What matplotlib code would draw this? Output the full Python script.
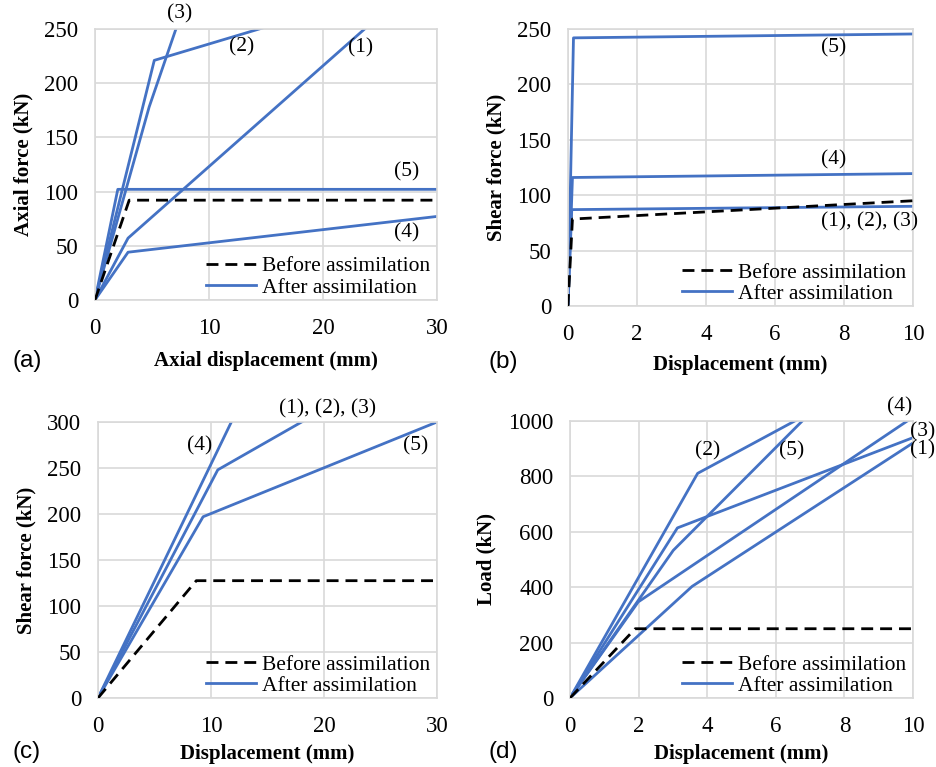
import matplotlib
matplotlib.use("Agg")
import matplotlib.pyplot as plt

plt.rcParams['font.family'] = ['Liberation Serif', 'DejaVu Serif']

BLUE = "#4472C4"
GRID = "#d9d9d9"

# (a) axial force vs axial displacement
a_before_x = [0, 3.0, 30]
a_before_y = [0, 92, 92]
a_after = {
    "(1)": ([0, 2.9, 30], [0, 57, 309]),
    "(2)": ([0, 5.2, 30], [0, 221, 299]),
    "(3)": ([0, 4.75, 7.1, 8.0], [0, 178, 250, 277]),
    "(4)": ([0, 2.9, 30], [0, 44, 77]),
    "(5)": ([0, 2.0, 30], [0, 102, 102]),
}

# (b) shear force vs displacement
b_before_x = [0, 0.13, 10]
b_before_y = [0, 78.5, 95]
b_after = {
    "(1), (2), (3)": ([0, 0.11, 10], [0, 87, 90]),
    "(4)": ([0, 0.13, 10], [0, 116, 119.5]),
    "(5)": ([0, 0.16, 10], [0, 242, 245.5]),
}

# (c) shear force vs displacement
c_before_x = [0, 8.7, 30]
c_before_y = [0, 127.5, 127.5]
c_after = {
    "(1), (2), (3)": ([0, 10.6, 30], [0, 248, 384]),
    "(4)": ([0, 11.8, 13.0], [0, 300, 330]),
    "(5)": ([0, 9.3, 30], [0, 197, 300]),
}

# (d) load vs displacement
d_before_x = [0, 1.9, 10]
d_before_y = [0, 250, 250]
d_after = {
    "(1)": ([0, 3.56, 10], [0, 403, 921]),
    "(2)": ([0, 3.72, 6.55, 7.0], [0, 811, 1000, 1030]),
    "(3)": ([0, 3.13, 10], [0, 614, 940]),
    "(4)": ([0, 1.99, 9.83, 10.2], [0, 347, 1000, 1022]),
    "(5)": ([0, 3.01, 6.77, 7.0], [0, 533, 1000, 1029]),
}

panels = [
    dict(pos=[0.1015, 0.609, 0.3654, 0.3533], xlim=30, xt=[0, 10, 20, 30],
         ylim=250, yt=[0, 50, 100, 150, 200, 250], xpad=9,
         xlabel="Axial displacement (mm)", ylabel="Axial force (kN)",
         before=(a_before_x, a_before_y), after=a_after, tag="(a)", tagpos=(0.013, 0.529),
         labels=[("(3)", 7.46, 264), ("(2)", 12.9, 233), ("(1)", 23.3, 232.5),
                 ("(5)", 27.3, 118), ("(4)", 27.3, 62)]),
    dict(pos=[0.6068, 0.601, 0.3686, 0.3612], xlim=10, xt=[0, 2, 4, 6, 8, 10],
         ylim=250, yt=[0, 50, 100, 150, 200, 250], xpad=7,
         xlabel="Displacement (mm)", ylabel="Shear force (kN)",
         before=(b_before_x, b_before_y), after=b_after, tag="(b)", tagpos=(0.522, 0.528),
         labels=[("(5)", 7.71, 233), ("(4)", 7.71, 132), ("(1), (2), (3)", 8.75, 76)]),
    dict(pos=[0.1047, 0.09, 0.3622, 0.3598], xlim=30, xt=[0, 10, 20, 30],
         ylim=300, yt=[0, 50, 100, 150, 200, 250, 300], xpad=5,
         xlabel="Displacement (mm)", ylabel="Shear force (kN)",
         before=(c_before_x, c_before_y), after=c_after, tag="(c)", tagpos=(0.013, 0.019),
         labels=[("(1), (2), (3)", 20.35, 314), ("(4)", 9.03, 274), ("(5)", 28.1, 274)]),
    dict(pos=[0.609, 0.09, 0.3665, 0.3611], xlim=10, xt=[0, 2, 4, 6, 8, 10],
         ylim=1000, yt=[0, 200, 400, 600, 800, 1000], xpad=5,
         xlabel="Displacement (mm)", ylabel="Load (kN)",
         before=(d_before_x, d_before_y), after=d_after, tag="(d)", tagpos=(0.522, 0.019),
         labels=[("(2)", 4.0, 892), ("(5)", 6.47, 892), ("(4)", 9.62, 1050),
                 ("(3)", 10.27, 962), ("(1)", 10.27, 895)]),
]

fig = plt.figure(figsize=(9.36, 7.67), dpi=100)

for p in panels:
    ax = fig.add_axes(p["pos"])
    bx, by = p["before"]
    ax.plot(bx, by, color="black", lw=2.0, ls=(0, (4.3, 2.5)), label="Before assimilation", zorder=3)
    first = True
    for name, (x, y) in p["after"].items():
        ax.plot(x, y, color=BLUE, lw=2.0, label="After assimilation" if first else None, zorder=2)
        first = False
    for txt, tx, ty in p["labels"]:
        ax.text(tx, ty, txt, fontsize=15.5, ha="center", va="center", clip_on=False)
    ax.set_xlim(0, p["xlim"])
    ax.set_ylim(0, p["ylim"])
    ax.set_xticks(p["xt"])
    ax.set_yticks(p["yt"])
    ax.grid(True, color=GRID, lw=1.2)
    ax.set_axisbelow(True)
    for s in ax.spines.values():
        s.set_color(GRID)
        s.set_linewidth(1.2)
    ax.tick_params(axis="x", length=0, labelsize=16.5, pad=13)
    ax.tick_params(axis="y", length=0, labelsize=16.5, pad=12)
    ax.set_xlabel(p["xlabel"], fontsize=15, fontweight="bold", labelpad=p["xpad"])
    ax.set_ylabel(p["ylabel"], fontsize=15, fontweight="bold", labelpad=8)
    ax.legend(loc="lower right", bbox_to_anchor=(1.0, -0.015), frameon=False, fontsize=15.5,
              handlelength=2.31, handletextpad=0.3, labelspacing=0.05, borderpad=0.1,
              borderaxespad=0.2)
    fig.text(p["tagpos"][0], p["tagpos"][1], p["tag"], fontsize=17.5, va="center", ha="left",
             family=["Liberation Sans", "DejaVu Sans"])

fig.savefig("out.png", dpi=100)
